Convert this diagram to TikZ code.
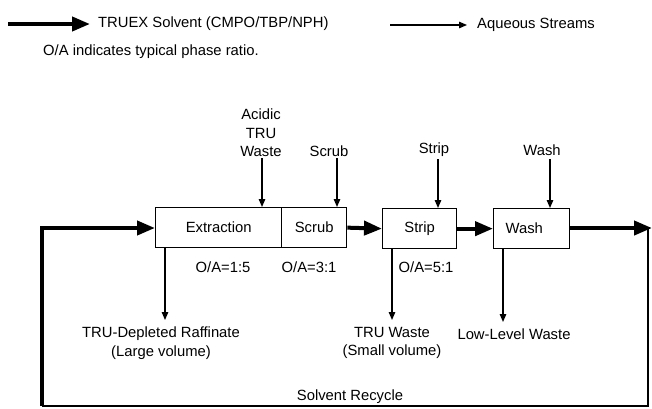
\documentclass[tikz,border=0pt]{standalone}
\usepackage{fontspec}
\setmainfont{Liberation Sans}
\usetikzlibrary{arrows.meta}
\begin{document}
\begin{tikzpicture}[x=1pt,y=-1pt,
  font=\fontsize{14.8}{18.5}\selectfont,
  solv/.style={line width=4pt,-{Triangle[length=18pt,width=14pt]}},
  solvline/.style={line width=4pt},
  recyc/.style={line width=1.6pt},
  aq/.style={line width=1.3pt,-{Triangle[length=8pt,width=6.5pt]}},
  box/.style={draw,line width=1.3pt,minimum height=40pt,inner sep=0pt,anchor=north west},
  lbl/.style={inner sep=0pt,align=center}]
\useasboundingbox (0,0) rectangle (652,408);

% legend
\coordinate (l1a) at (8,24);
\coordinate (l1b) at (90,24);
\draw[solv] (l1a) -- (l1b);
\node[lbl,anchor=west] (leg1) at (98,24) {TRUEX Solvent (CMPO/TBP/NPH)};
\coordinate (l2a) at (390,25);
\coordinate (l2b) at (467,25);
\draw[aq] (l2a) -- (l2b);
\node[lbl,anchor=west] (leg2) at (477,25) {Aqueous Streams};
\node[lbl,anchor=west] (note) at (43,52) {O/A indicates typical phase ratio.};

% boxes
\node[box,minimum width=126pt] (ext) at (155,207) {Extraction};
\node[box,minimum width=65pt] (scr) at (281,207) {Scrub};
\node[box,minimum width=74pt] (str) at (382,208) {Strip};
\node[box,minimum width=76pt,inner xsep=12pt,text width=52pt,align=left] (wsh) at (493,208) {Wash};

% feed labels
\node[lbl] (acid) at (261,133) {Acidic\\TRU\\Waste};
\node[lbl] (scrin) at (329,151) {Scrub};
\node[lbl] (strin) at (434,150) {Strip};
\node[lbl] (wshin) at (542,150) {Wash};

\coordinate (f1) at (262,158);
\coordinate (f2) at (337,158);
\coordinate (f3) at (438,159);
\coordinate (f4) at (550,159);
\draw[aq] (f1) -- (f1 |- ext.north);
\draw[aq] (f2) -- (f2 |- scr.north);
\draw[aq] (f3) -- (f3 |- str.north);
\draw[aq] (f4) -- (f4 |- wsh.north);

% O/A labels
\node[lbl] (oa1) at (223,267) {O/A=1:5};
\node[lbl] (oa2) at (309,267) {O/A=3:1};
\node[lbl] (oa3) at (426,267) {O/A=5:1};

% product labels
\node[lbl] (raff) at (161,343) {TRU-Depleted Raffinate\\(Large volume)};
\node[lbl] (truw) at (392,343) {TRU Waste\\(Small volume)};
\node[lbl] (llw) at (514,334) {Low-Level Waste};

\coordinate (p1) at (165,320);
\coordinate (p2) at (392,320);
\coordinate (p3) at (503,322);
\draw[aq] (p1 |- ext.south) -- (p1);
\draw[aq] (p2 |- str.south) -- (p2);
\draw[aq] (p3 |- wsh.south) -- (p3);

% solvent flow
\draw[solv] (scr.east) -- (str.west);
\draw[solv] (str.east) -- (wsh.west);
\coordinate (rout) at (652,228);
\draw[solv] (wsh.east |- rout) -- (rout);
\coordinate (rc1) at (648,228);
\coordinate (rc2) at (648,406);
\coordinate (rc3) at (42,406);
\coordinate (rc4) at (42,228);
\draw[recyc] (rc1) -- (rc2) -- (rc3);
\draw[solvline] (rc3) -- (rc4);
\draw[solv] ([xshift=-2pt]rc4) -- (rc4 -| ext.west);
\node[lbl] (recy) at (350,397) {Solvent Recycle};
\end{tikzpicture}
\end{document}
